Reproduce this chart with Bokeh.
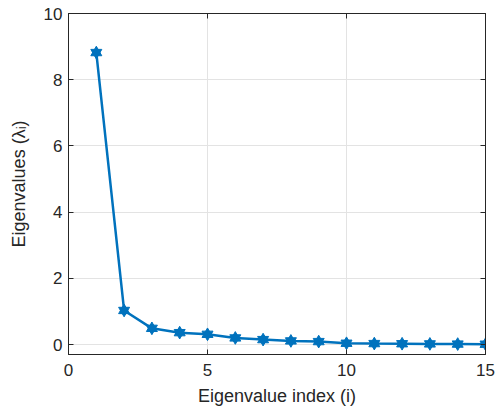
from bokeh.plotting import figure
from bokeh.models import LinearAxis, FixedTicker, Range1d, CustomLabelingPolicy
from bokeh.embed import file_html
from bokeh.resources import INLINE

idx = list(range(1, 16))
eig = [8.82, 1.03, 0.49, 0.36, 0.31, 0.20, 0.15, 0.11, 0.09, 0.04, 0.03, 0.025, 0.02, 0.015, 0.01]
x_ticks = [0, 5, 10, 15]
y_ticks = [0, 2, 4, 6, 8, 10]

BLUE = "#0072BD"
TXT = "#262626"
FONT = "Liberation Sans"

p = figure(width=500, height=409, output_backend="svg", toolbar_location=None,
           x_range=Range1d(0, 15), y_range=Range1d(-0.3, 10),
           min_border_left=68, min_border_right=11, min_border_top=13, min_border_bottom=55)
p.outline_line_color = TXT
p.outline_line_width = 1
p.background_fill_color = "white"
p.border_fill_color = "white"

p.line(idx, eig, line_color=BLUE, line_width=2.5)
p.scatter(idx, eig, marker="triangle", size=11, fill_color=BLUE, line_color=BLUE)
p.scatter(idx, eig, marker="inverted_triangle", size=11, fill_color=BLUE, line_color=BLUE)

for ax in p.xaxis + p.yaxis:
    ax.major_tick_in = 5
    ax.major_tick_out = 0
    ax.minor_tick_in = 0
    ax.minor_tick_out = 0
    ax.axis_line_color = TXT
    ax.major_tick_line_color = TXT
    ax.major_label_text_color = TXT
    ax.major_label_text_font = FONT
    ax.major_label_text_font_size = "17px"
    ax.axis_label_text_color = TXT
    ax.axis_label_text_font = FONT
    ax.axis_label_text_font_size = "18px"
    ax.axis_label_text_font_style = "normal"

p.xaxis.ticker = FixedTicker(ticks=x_ticks)
p.yaxis.ticker = FixedTicker(ticks=y_ticks)
p.xaxis.axis_label = "Eigenvalue index (i)"
p.yaxis.axis_label = "Eigenvalues (λᵢ)"
p.xaxis.major_label_standoff = 9
p.yaxis.major_label_standoff = 6
p.xaxis.axis_label_standoff = 7
p.yaxis.axis_label_standoff = 12

p.xgrid.ticker = FixedTicker(ticks=x_ticks)
p.ygrid.ticker = FixedTicker(ticks=y_ticks)
p.grid.grid_line_color = "#e3e3e3"
p.grid.grid_line_width = 1

no_labels = CustomLabelingPolicy(code="return new Set()")
no_labels2 = CustomLabelingPolicy(code="return new Set()")
top = LinearAxis(ticker=FixedTicker(ticks=x_ticks), major_label_policy=no_labels,
                 major_tick_in=5, major_tick_out=0, minor_tick_in=0, minor_tick_out=0,
                 major_label_standoff=0, axis_line_color=TXT, major_tick_line_color=TXT)
right = LinearAxis(ticker=FixedTicker(ticks=y_ticks), major_label_policy=no_labels2,
                   major_tick_in=5, major_tick_out=0, minor_tick_in=0, minor_tick_out=0,
                   major_label_standoff=0, axis_line_color=TXT, major_tick_line_color=TXT)
p.add_layout(top, "above")
p.add_layout(right, "right")

open("out.html", "w").write(file_html(p, INLINE))
